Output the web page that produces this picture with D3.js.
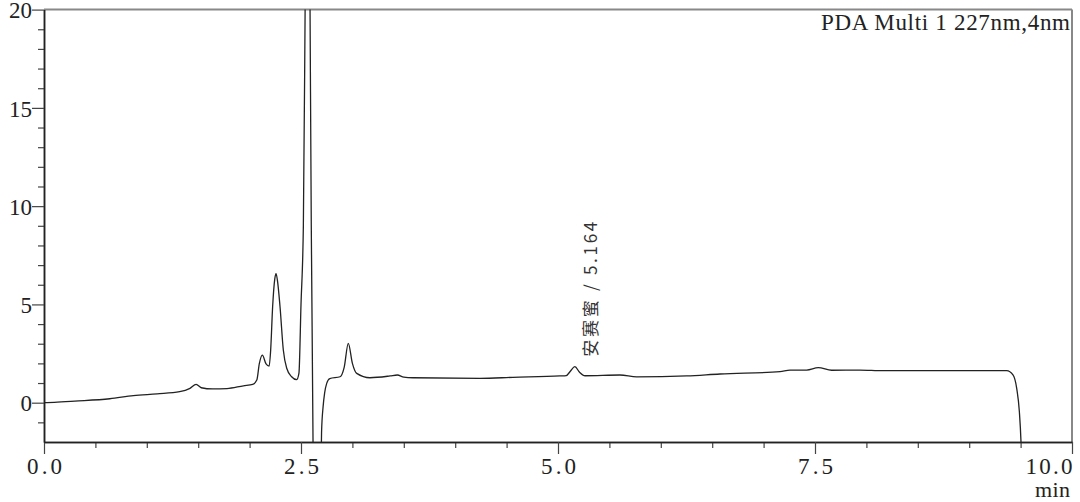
<!DOCTYPE html>
<html>
<head>
<meta charset="utf-8">
<script src="https://cdn.jsdelivr.net/npm/d3@7"></script>
<style>
  body { margin: 0; background: #fff; }
  svg { display: block; }
</style>
</head>
<body>
<script>
// retention time (min) and detector signal (mAU)
var times = [0.00, 0.10, 0.30, 0.64, 0.87, 1.10, 1.32, 1.42, 1.48, 1.53, 1.64, 1.78, 1.94, 2.03, 2.07, 2.095,
    2.124, 2.16, 2.19, 2.205, 2.224, 2.245, 2.257, 2.27, 2.296, 2.328, 2.361, 2.409, 2.458, 2.48, 2.50, 2.523,
    2.54, 2.565, 2.588, 2.60, 2.617, 2.63, 2.66, 2.69, 2.70, 2.715, 2.73, 2.75, 2.78, 2.88, 2.92, 2.96,
    3.00, 3.042, 3.171, 3.366, 3.437, 3.50, 3.589, 4.241, 4.562, 5.019, 5.08, 5.12, 5.164, 5.21, 5.263,
    5.603, 5.765, 6.252, 6.576, 7.160, 7.257, 7.419, 7.532, 7.662, 7.938, 8.16, 9.365, 9.426, 9.462,
    9.488, 9.504, 9.52];
var signal = [0.00, 0.02, 0.08, 0.20, 0.36, 0.45, 0.56, 0.73, 0.93, 0.76, 0.70, 0.72, 0.86, 0.93, 1.15, 2.00,
    2.42, 1.97, 1.86, 2.68, 4.88, 6.30, 6.57, 6.25, 4.88, 2.68, 1.75, 1.32, 1.17, 1.50, 5.00, 9.00,
    20.0, 40.0, 20.0, 9.00, -2.0, -15, -20, -5, -1.5, -0.2, 0.50, 0.98, 1.23, 1.32, 1.80, 3.02,
    2.00, 1.49, 1.27, 1.36, 1.41, 1.30, 1.27, 1.24, 1.29, 1.36, 1.38, 1.60, 1.83, 1.55, 1.37,
    1.41, 1.31, 1.36, 1.46, 1.58, 1.66, 1.66, 1.78, 1.65, 1.66, 1.63, 1.63, 1.41, 0.73,
    -0.46, -2.0, -5];

var xMajor = [0, 2.5, 5, 7.5, 10];
var xMinor = [0.5, 1, 1.5, 2, 3, 3.5, 4, 4.5, 5.5, 6, 6.5, 7, 8, 8.5, 9, 9.5];
var yMajor = [0, 5, 10, 15, 20];
var yMinor = [-1, 1, 2, 3, 4, 6, 7, 8, 9, 11, 12, 13, 14, 16, 17, 18, 19];

var peakName = "安赛蜜";
var peakTime = 5.164;
var detectorLabel = "PDA Multi 1 227nm,4nm";

var width = 1080, height = 502;
var plotLeft = 44, plotRight = 1072, plotTop = 9.6, plotBottom = 442;

var svg = d3.select("body").append("svg")
    .attr("width", width)
    .attr("height", height);

var x = d3.scaleLinear().domain([0, 10]).range([plotLeft, plotRight]);
var y = d3.scaleLinear().domain([-2, 20]).range([plotBottom, plotTop]);

svg.append("clipPath").attr("id", "plot")
    .append("rect")
    .attr("x", plotLeft).attr("y", plotTop)
    .attr("width", plotRight - plotLeft).attr("height", plotBottom - plotTop);

// frame: grey top and right
svg.append("line")
    .attr("x1", plotLeft).attr("x2", plotRight).attr("y1", plotTop).attr("y2", plotTop)
    .attr("stroke", "#888").attr("stroke-width", 2);
svg.append("line")
    .attr("x1", plotRight).attr("x2", plotRight).attr("y1", plotTop).attr("y2", plotBottom)
    .attr("stroke", "#888").attr("stroke-width", 2);

function styleAxis(g) {
    g.select(".domain").attr("stroke", "#222").attr("stroke-width", 1.5);
    g.selectAll(".tick line").attr("stroke", "#444").attr("stroke-width", 1.2);
    g.selectAll("text")
        .attr("fill", "#222")
        .style("font-family", "'Liberation Serif', 'DejaVu Serif', serif")
        .style("font-size", "23px");
}

// x axis
svg.append("g").attr("transform", "translate(0," + plotBottom + ")")
    .call(d3.axisBottom(x).tickValues(xMinor).tickSize(6).tickSizeOuter(0).tickFormat(""))
    .call(styleAxis);
var xAxis = svg.append("g").attr("transform", "translate(0," + plotBottom + ")")
    .call(d3.axisBottom(x).tickValues(xMajor).tickSize(12).tickSizeOuter(0).tickFormat(d3.format(".1f")))
    .call(styleAxis);
xAxis.selectAll("text")
    .attr("y", 32).attr("dy", null)
    .attr("textLength", function(d) { return d >= 10 ? 47 : 35; })
    .attr("lengthAdjust", "spacing");
xAxis.selectAll(".tick").filter(function(d) { return d === 10; })
    .select("text").attr("text-anchor", "end").attr("x", 0);

// y axis
svg.append("g").attr("transform", "translate(" + plotLeft + ",0)")
    .call(d3.axisLeft(y).tickValues(yMinor).tickSize(6).tickSizeOuter(0).tickFormat(""))
    .call(styleAxis);
var yAxis = svg.append("g").attr("transform", "translate(" + plotLeft + ",0)")
    .call(d3.axisLeft(y).tickValues(yMajor).tickSize(12).tickPadding(0).tickSizeOuter(0))
    .call(styleAxis);
yAxis.selectAll("text").attr("dy", "0.36em");

// trace
var points = times.map(function(t, i) { return [t, signal[i]]; });
var line = d3.line()
    .x(function(d) { return x(d[0]); })
    .y(function(d) { return y(d[1]); })
    .curve(d3.curveMonotoneX);

svg.append("path")
    .datum(points)
    .attr("clip-path", "url(#plot)")
    .attr("fill", "none")
    .attr("stroke", "#222")
    .attr("stroke-width", 1.3)
    .attr("d", line);

// peak label
svg.append("text")
    .attr("transform", "translate(" + (x(peakTime) + 22) + "," + (y(1.83) - 10) + ") rotate(-90)")
    .attr("fill", "#333")
    .style("font-family", "'Noto Sans CJK SC', sans-serif")
    .style("font-size", "17px")
    .attr("textLength", 135)
    .attr("lengthAdjust", "spacing")
    .text(peakName + " / " + peakTime.toFixed(3));

// detector label
svg.append("text")
    .attr("x", 1070).attr("y", 30)
    .attr("text-anchor", "end")
    .attr("fill", "#222")
    .style("font-family", "'Liberation Serif', serif")
    .style("font-size", "23px")
    .attr("textLength", 249)
    .attr("lengthAdjust", "spacing")
    .text(detectorLabel);

// unit
svg.append("text")
    .attr("x", 1070).attr("y", 497)
    .attr("text-anchor", "end")
    .attr("fill", "#222")
    .style("font-family", "'Liberation Serif', serif")
    .style("font-size", "22px")
    .attr("textLength", 35)
    .attr("lengthAdjust", "spacing")
    .text("min");
</script>
</body>
</html>
